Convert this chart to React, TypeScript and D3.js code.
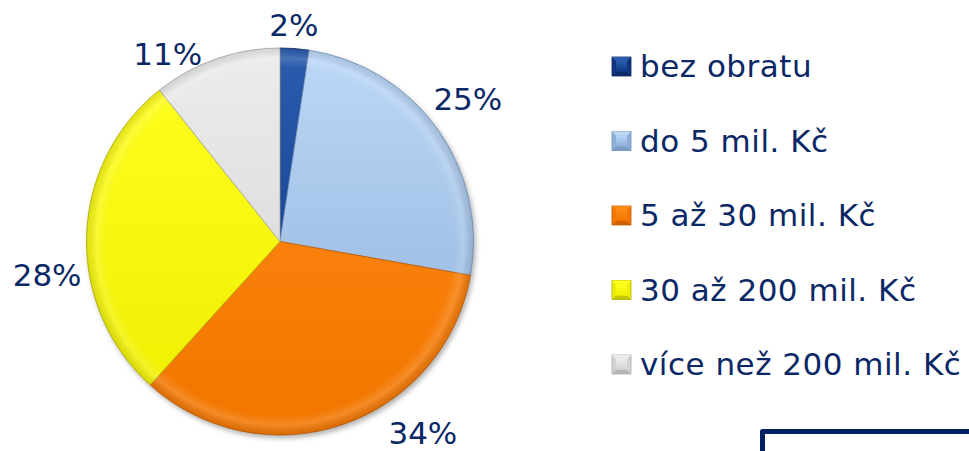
import React from "react";
import * as d3 from "d3";

const categories = [
  "bez obratu",
  "do 5 mil. Kč",
  "5 až 30 mil. Kč",
  "30 až 200 mil. Kč",
  "více než 200 mil. Kč",
];
const shares = [2.4, 25.4, 33.9, 27.6, 10.7];
const percentLabels = ["2%", "25%", "34%", "28%", "11%"];

const lightColors = ["#2a5cae", "#bcd8f7", "#ff8a14", "#ffff20", "#ececec"];
const darkColors = ["#0f3480", "#8eafd8", "#f27600", "#eeee00", "#d2d2d2"];
const edgeColors = ["#0a2760", "#7393bb", "#c05a00", "#b0b000", "#aaaaaa"];

// Excel pushes some outside labels around; small nudges from the arc centroid
const labelNudge = [
  [-3, 8],
  [5, -11],
  [70, -21],
  [-8, 41],
  [-38, 25],
];

const width = 969;
const height = 451;
const cx = 280;
const cy = 241.5;
const radius = 193.5;
const textColor = "#0b2866";
const fontFamily = "'DejaVu Sans', Verdana, sans-serif";

export default function App() {
  const pie = d3
    .pie<number>()
    .sort(null)
    .value((d) => d);
  const arcs = pie(shares);

  const arc = d3.arc<d3.PieArcDatum<number>>().innerRadius(0).outerRadius(radius);
  const labelArc = d3
    .arc<d3.PieArcDatum<number>>()
    .innerRadius(radius + 31.5)
    .outerRadius(radius + 31.5);

  const legendY = d3
    .scaleLinear()
    .domain([0, categories.length - 1])
    .range([77, 375]);

  const sq = 19;

  return (
    <svg
      width={width}
      height={height}
      style={{ position: "absolute", left: 0, top: 0, background: "#fff" }}
    >
      <defs>
        <filter
          id="shadow"
          x="-20%"
          y="-20%"
          width="140%"
          height="140%"
          colorInterpolationFilters="sRGB"
        >
          <feDropShadow dx="2" dy="3" stdDeviation="2.5" floodColor="#000" floodOpacity="0.3" />
        </filter>
        {categories.map((c, i) => (
          <linearGradient
            key={c}
            id={`g${i}`}
            gradientUnits="userSpaceOnUse"
            x1={0}
            y1={-radius}
            x2={0}
            y2={radius}
          >
            <stop offset="0%" stopColor={lightColors[i]} />
            <stop offset="100%" stopColor={darkColors[i]} />
          </linearGradient>
        ))}
        {categories.map((c, i) => (
          <linearGradient key={"s" + c} id={`sg${i}`} x1="0" y1="0" x2="0" y2="1">
            <stop offset="0%" stopColor={lightColors[i]} />
            <stop offset="100%" stopColor={darkColors[i]} />
          </linearGradient>
        ))}
        <radialGradient id="bevel" cx={0} cy={0} r={radius} gradientUnits="userSpaceOnUse">
          <stop offset="90%" stopColor="#fff" stopOpacity="0" />
          <stop offset="95%" stopColor="#fff" stopOpacity="0.15" />
          <stop offset="100%" stopColor="#000" stopOpacity="0.1" />
        </radialGradient>
      </defs>

      <g transform={`translate(${cx},${cy})`}>
        <g filter="url(#shadow)">
          {arcs.map((a, i) => (
            <path
              key={categories[i]}
              d={arc(a) || ""}
              fill={`url(#g${i})`}
              stroke={edgeColors[i]}
              strokeWidth={0.8}
            />
          ))}
        </g>
        {arcs.map((a, i) => (
          <path key={"b" + i} d={arc(a) || ""} fill="url(#bevel)" />
        ))}
        {arcs.map((a, i) => {
          const [x, y] = labelArc.centroid(a);
          return (
            <text
              key={"l" + i}
              x={x + labelNudge[i][0]}
              y={y + 11 + labelNudge[i][1]}
              textAnchor="middle"
              fontFamily={fontFamily}
              fontSize={31}
              fill={textColor}
            >
              {percentLabels[i]}
            </text>
          );
        })}
      </g>

      <g>
        {categories.map((c, i) => {
          const y = legendY(i);
          const x0 = 612;
          const y0 = y - sq - 1;
          const m = 4;
          return (
            <g key={c}>
              <rect x={x0} y={y0} width={sq} height={sq} fill={darkColors[i]} stroke={edgeColors[i]} strokeWidth={0.8} />
              <polygon
                points={`${x0},${y0} ${x0 + sq},${y0} ${x0 + sq - m},${y0 + m} ${x0 + m},${y0 + m}`}
                fill={lightColors[i]}
              />
              <polygon
                points={`${x0},${y0 + sq} ${x0 + sq},${y0 + sq} ${x0 + sq - m},${y0 + sq - m} ${x0 + m},${y0 + sq - m}`}
                fill={edgeColors[i]}
                opacity={0.7}
              />
              <rect x={x0 + m} y={y0 + m} width={sq - 2 * m} height={sq - 2 * m} fill={`url(#sg${i})`} />
              <text
                x={640}
                y={y}
                fontFamily={fontFamily}
                fontSize={31}
                letterSpacing={0.5}
                fill={textColor}
              >
                {c}
              </text>
            </g>
          );
        })}
      </g>

      <path
        d={`M762.5,${height + 5} V431.5 H${width + 5}`}
        fill="none"
        stroke="#002060"
        strokeWidth={5}
        strokeLinejoin="round"
      />
    </svg>
  );
}
